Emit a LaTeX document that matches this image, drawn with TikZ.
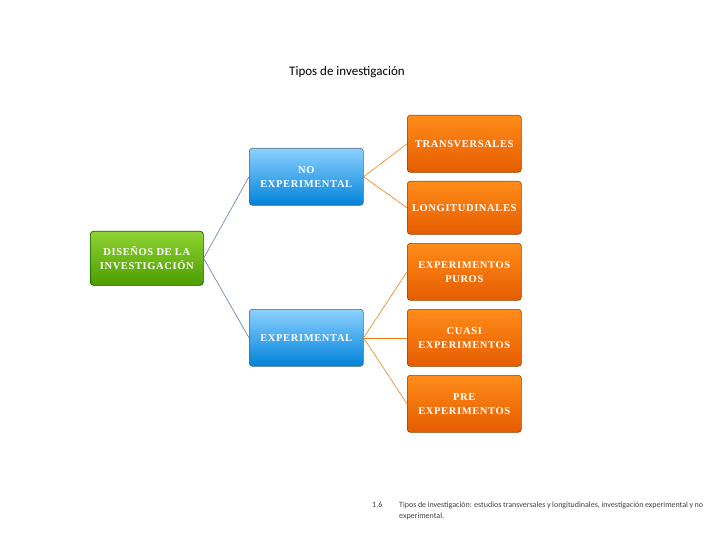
\documentclass[tikz,border=0pt]{standalone}
\usepackage{fontspec}
\setmainfont{Liberation Serif}
\newfontfamily\carfont{Carlito}
\newfontfamily\boxfont[LetterSpace=6]{Liberation Serif}
\begin{document}
\begin{tikzpicture}[x=1pt,y=-1pt,
  box/.style={rounded corners=3pt,draw=#1!70!black,line width=0.6pt,
    text=white,font=\boxfont\bfseries\fontsize{10.5}{14}\selectfont,align=center,anchor=north west,inner sep=1pt},
  gbox/.style={box=green!50!black,top color=green!60!black!55!yellow!80,bottom color=green!45!black!70!yellow},
  bbox/.style={box=cyan!60!black,top color=cyan!60!blue!45,bottom color=cyan!60!blue!85!black},
  obox/.style={box=orange!80!black,top color=orange!90,bottom color=orange!80!red!90!black},
  lg/.style={draw=cyan!50!blue!60!black!80,line width=0.6pt},
  lo/.style={draw=orange!70!brown,line width=0.6pt}]
\useasboundingbox (0,0) rectangle (720,540);
\node[font=\carfont\fontsize{13}{15}\selectfont] (title) at (347,72) {Tipos de investigación};
\node[gbox,minimum width=113pt,minimum height=54pt] (dis) at (90,231) {DISEÑOS DE LA\\INVESTIGACIÓN};
\node[bbox,minimum width=114pt,minimum height=57pt] (noexp) at (249,148) {NO\\EXPERIMENTAL};
\node[bbox,minimum width=114pt,minimum height=57pt] (exp) at (249,309) {EXPERIMENTAL};
\node[obox,minimum width=114pt,minimum height=57pt] (tr) at (407,115) {TRANSVERSALES};
\node[obox,minimum width=114pt,minimum height=53pt] (lo) at (407,181) {LONGITUDINALES};
\node[obox,minimum width=114pt,minimum height=57pt] (pu) at (407,243) {EXPERIMENTOS\\PUROS};
\node[obox,minimum width=114pt,minimum height=57pt] (cu) at (407,309) {CUASI\\EXPERIMENTOS};
\node[obox,minimum width=114pt,minimum height=57pt] (pr) at (407,375) {PRE\\EXPERIMENTOS};
\draw[lg] (dis.east) -- (noexp.west);
\draw[lg] (dis.east) -- (exp.west);
\draw[lo] (noexp.east) -- (tr.west);
\draw[lo] (noexp.east) -- (lo.west);
\draw[lo] (exp.east) -- (pu.west);
\draw[lo] (exp.east) -- (cu.west);
\draw[lo] (exp.east) -- (pr.west);
\node[font=\carfont\fontsize{8}{10}\selectfont,text=black!75,anchor=north west,inner sep=0pt] (num) at (372,502) {1.6};
\node[font=\carfont\fontsize{8}{11}\selectfont,text=black!75,anchor=north west,text width=304pt,align=justify,inner sep=0pt] (cap) at (399,502)
 {Tipos de investigación: estudios transversales y longitudinales, investigación experimental y no experimental.};
\end{tikzpicture}
\end{document}
